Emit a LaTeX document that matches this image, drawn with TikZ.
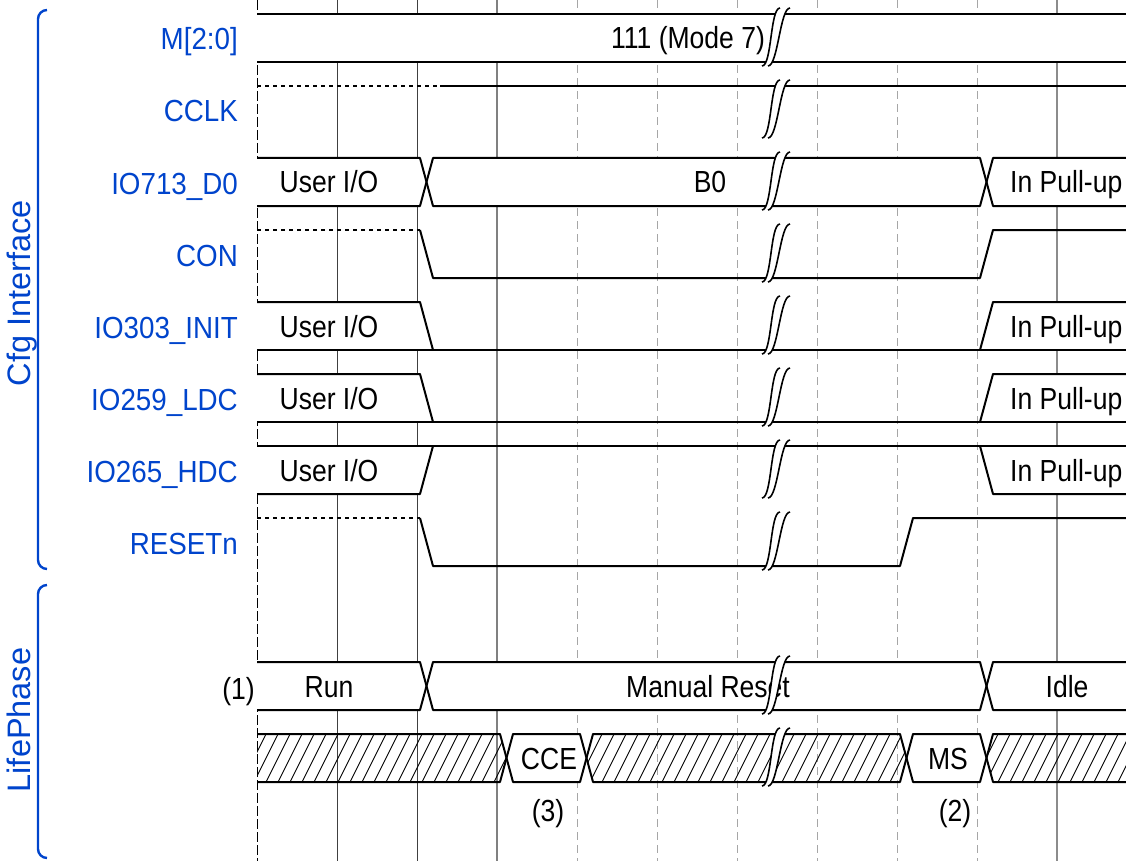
\documentclass[tikz,border=0pt]{standalone}
\usepackage{fontspec}
\setmainfont[FakeStretch=0.87]{Liberation Sans}
\newfontfamily\sidefont{Liberation Sans}
\newfontfamily\namefont[FakeStretch=0.91]{Liberation Sans}
\definecolor{cfgblue}{RGB}{0,68,204}
\tikzset{
  wave/.style={line width=2pt, line join=round},
  hold/.style={line width=2pt, dash pattern=on 4pt off 4pt},
  hatch/.style={line width=0.9pt},
  lbl/.style={anchor=base east, inner sep=0pt, text=cfgblue, font=\namefont\fontsize{30.5}{36}\selectfont},
  txt/.style={anchor=base, inner sep=0pt, font=\fontsize{30.5}{36}\selectfont},
  grp/.style={anchor=base, inner sep=0pt, rotate=90, text=cfgblue, font=\sidefont\fontsize{32.5}{38}\selectfont},
  brace/.style={cfgblue, line width=2.4pt, rounded corners=9pt},
}
\newcommand{\sigbreak}[1]{%
  \fill[white] ({762},{#1+28}) .. controls ({772},{#1+28}) and ({770},{#1-30}) .. ({780},{#1-30})
    -- ({790},{#1-30}) .. controls ({780},{#1-30}) and ({778},{#1+28}) .. ({768},{#1+28}) -- cycle;
  \draw[line width=1.6pt] ({762},{#1+28}) .. controls ({772},{#1+28}) and ({770},{#1-30}) .. ({780},{#1-30});
  \draw[line width=1.6pt] ({768},{#1+28}) .. controls ({778},{#1+28}) and ({780},{#1-30}) .. ({790},{#1-30});}
\begin{document}
\begin{tikzpicture}[x=1pt, y=-1pt]
  \useasboundingbox (0,0) rectangle (1126,861);
  \draw[black, line width=0.8pt, dash pattern=on 10pt off 3pt] (257,0) -- (257,861);
  \foreach \x in {337,417} { \draw[black!75, line width=0.8pt] (\x,0) -- (\x,861); }
  \draw[black!50, line width=1.4pt] (497,0) -- (497,861);
  \foreach \x in {577,657,...,977} { \draw[black!35, line width=1pt, dash pattern=on 8pt off 5pt] (\x,0) -- (\x,861); }
  \draw[black!45, line width=1.2pt] (1057,0) -- (1057,861);

  \foreach \c in {38,182,686} { \fill[white] (257,{\c-24}) rectangle (1126,{\c+24}); }
  \foreach \c in {326,398} {
    \fill[white] (257,{\c-24}) -- (420,{\c-24}) -- (433,{\c+24}) -- (257,{\c+24}) -- cycle;
    \fill[white] (980,{\c+24}) -- (993,{\c-24}) -- (1126,{\c-24}) -- (1126,{\c+24}) -- cycle;
  }
  \fill[white] (257,494) -- (420,494) -- (433,446) -- (257,446) -- cycle;
  \fill[white] (980,446) -- (993,494) -- (1126,494) -- (1126,446) -- cycle;
  \fill[white] (506.5,758) -- (513,734) -- (580,734) -- (586.5,758) -- (580,782) -- (513,782) -- cycle;
  \fill[white] (906.5,758) -- (913,734) -- (980,734) -- (986.5,758) -- (980,782) -- (913,782) -- cycle;
  \begin{scope}
    \clip (257,734) -- (500,734) -- (506.5,758) -- (500,782) -- (257,782) -- cycle
      (593,734) -- (900,734) -- (906.5,758) -- (900,782) -- (593,782) -- (586.5,758) -- cycle
      (993,734) -- (1126,734) -- (1126,782) -- (993,782) -- (986.5,758) -- cycle;
    \foreach \x in {230,242,...,1130} { \draw[hatch] (\x,782) -- (\x+24,734); }
  \end{scope}

  \draw[wave] (257,14) -- (1126,14) (257,62) -- (1126,62);
  \draw[hold] (257,86) -- (437,86);
  \draw[wave] (440,86) -- (1126,86);
  \foreach \c in {182,686} {
    \draw[wave] (257,{\c-24}) -- (420,{\c-24}) -- (433,{\c+24}) -- (980,{\c+24}) -- (993,{\c-24}) -- (1126,{\c-24});
    \draw[wave] (257,{\c+24}) -- (420,{\c+24}) -- (433,{\c-24}) -- (980,{\c-24}) -- (993,{\c+24}) -- (1126,{\c+24});
  }
  \draw[hold] (257,230) -- (420,230);
  \draw[wave] (420,230) -- (433,278) -- (980,278) -- (993,230) -- (1126,230);
  \foreach \c in {326,398} {
    \draw[wave] (257,{\c-24}) -- (420,{\c-24}) -- (433,{\c+24});
    \draw[wave] (257,{\c+24}) -- (1126,{\c+24});
    \draw[wave] (980,{\c+24}) -- (993,{\c-24}) -- (1126,{\c-24});
  }
  \draw[wave] (257,446) -- (1126,446);
  \draw[wave] (257,494) -- (420,494) -- (433,446);
  \draw[wave] (980,446) -- (993,494) -- (1126,494);
  \draw[hold] (257,518) -- (420,518);
  \draw[wave] (420,518) -- (433,566) -- (900,566) -- (913,518) -- (1126,518);
  \draw[wave] (257,734) -- (500,734) -- (513,782) -- (580,782) -- (593,734) -- (900,734) -- (913,782) -- (980,782) -- (993,734) -- (1126,734);
  \draw[wave] (257,782) -- (500,782) -- (513,734) -- (580,734) -- (593,782) -- (900,782) -- (913,734) -- (980,734) -- (993,782) -- (1126,782);

  \node[lbl] (lM) at (238,50) {M[2:0]};
  \node[lbl] (lCCLK) at (238,122) {CCLK};
  \node[lbl] (lD0) at (238,194) {IO713\_D0};
  \node[lbl] (lCON) at (238,266) {CON};
  \node[lbl] (lINIT) at (238,338) {IO303\_INIT};
  \node[lbl] (lLDC) at (238,410) {IO259\_LDC};
  \node[lbl] (lHDC) at (238,482) {IO265\_HDC};
  \node[lbl] (lRST) at (238,554) {RESETn};

  \node[txt] (mode) at (688,49) {111 (Mode 7)};
  \node[txt] (d0user) at (329,193) {User I/O};
  \node[txt] (d0b) at (710,193) {B0};
  \node[txt, anchor=base west] (d0pull) at (1010,193) {In Pull-up};
  \foreach \c/\n in {326/init,398/ldc,470/hdc} {
    \node[txt] (\n user) at (329,{\c+11}) {User I/O};
    \node[txt, anchor=base west] (\n pull) at (1010,{\c+11}) {In Pull-up};
  }
  \node[txt] (run) at (329,697) {Run};
  \node[txt] (manual) at (708,697) {Manual Reset};
  \node[txt] (idle) at (1067,697) {Idle};
  \node[txt, anchor=base east] (n1) at (255,699) {(1)};
  \node[txt] (cce) at (549,769) {CCE};
  \node[txt] (ms) at (948,769) {MS};
  \node[txt] (n3) at (548,821) {(3)};
  \node[txt] (n2) at (955,821) {(2)};

  \foreach \c in {38,110,...,542,686,758} { \sigbreak{\c} }

  \draw[brace] (47,10) -- (38,10) -- (38,569) -- (47,569);
  \draw[brace] (47,585) -- (38,585) -- (38,858) -- (47,858);
  \node[grp] (gcfg) at (30,293) {Cfg Interface};
  \node[grp] (glife) at (30,720) {LifePhase};
\end{tikzpicture}
\end{document}
